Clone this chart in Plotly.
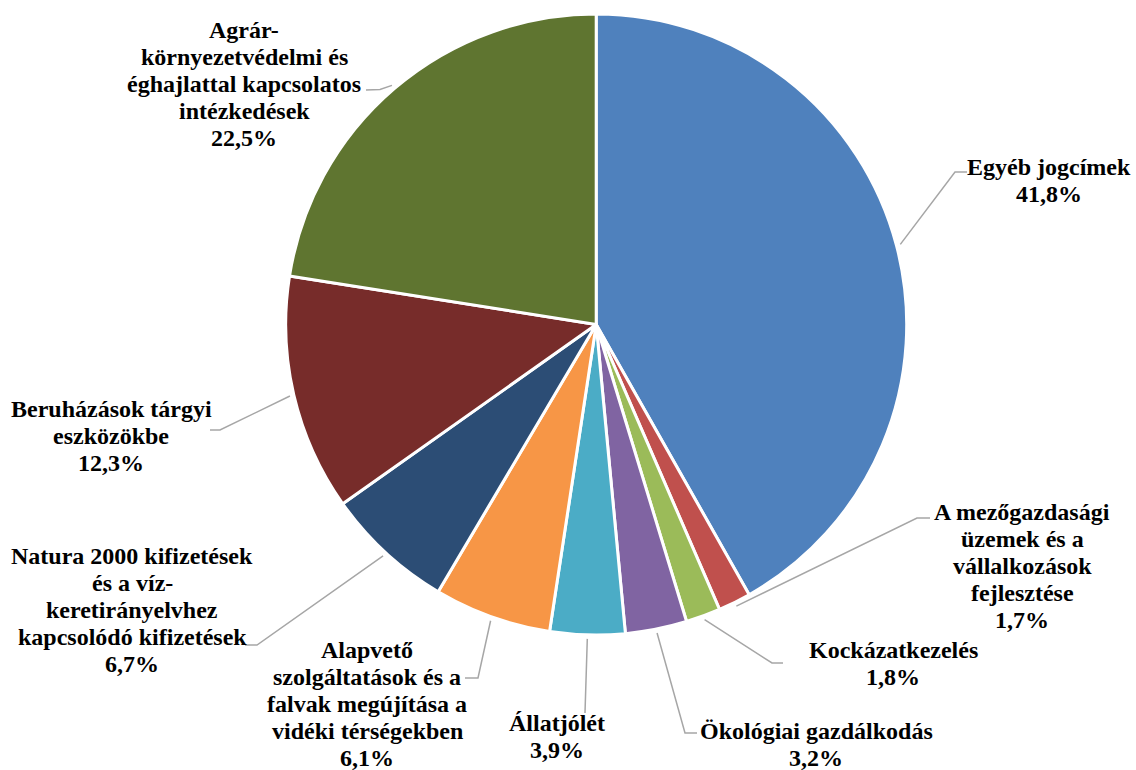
import math
import plotly.graph_objects as go

# ---- data ----
categories = [
    "Egyéb jogcímek",
    "A mezőgazdasági\nüzemek és a\nvállalkozások\nfejlesztése",
    "Kockázatkezelés",
    "Ökológiai gazdálkodás",
    "Állatjólét",
    "Alapvető\nszolgáltatások és a\nfalvak megújítása a\nvidéki térségekben",
    "Natura 2000 kifizetések\nés a víz-\nkeretirányelvhez\nkapcsolódó kifizetések",
    "Beruházások tárgyi\neszközökbe",
    "Agrár-\nkörnyezetvédelmi és\néghajlattal kapcsolatos\nintézkedések",
]
values = [41.8, 1.7, 1.8, 3.2, 3.9, 6.1, 6.7, 12.3, 22.5]
colors = ["#4F81BD", "#C0504D", "#9BBB59", "#8064A2", "#4BACC6",
          "#F79646", "#2C4D75", "#772C2A", "#5F7530"]

# ---- layout (pixel positions of label blocks and leader elbows) ----
W, H = 1136, 770
CX, CY, R = 596.2, 324.5, 310.5
label_centers = [(1049, 180), (1022, 566), (893, 663), (816, 744), (557, 736),
                 (367, 704), (132, 610), (111, 436), (244, 84)]
leader_bends = [
    [(955, 172), (967, 172)],
    [(917, 518), (930, 518)],
    [(772, 663), (783, 663)],
    [(685, 733), (697, 733)],
    [(585, 713)],
    [(478, 678), (465, 678)],
    [(257, 645), (245, 645)],
    [(220, 430), (210, 430)],
    [(380, 89.5), (366, 90)],
]
LINE_H = 27
FONT = dict(family="Liberation Serif, Times New Roman, serif", size=24,
            color="#000000", weight="bold")


def join_name(s):
    out = ""
    for part in s.split("\n"):
        if out and not out.endswith("-"):
            out += " "
        out += part
    return out


def px(x, y):
    return x / W, 1 - y / H


fig = go.Figure(go.Pie(
    labels=[join_name(c) for c in categories],
    values=values,
    sort=False,
    direction="clockwise",
    rotation=0,
    marker=dict(colors=colors, line=dict(color="#FFFFFF", width=3)),
    textinfo="none",
    textposition="none",
    domain=dict(x=[(CX - R) / W, (CX + R) / W], y=[1 - (CY + R) / H, 1 - (CY - R) / H]),
    showlegend=False,
))

total = sum(values)
cum = 0.0
annotations = []
shapes = []
for i, (name, v) in enumerate(zip(categories, values)):
    mid = (cum + v / 2) / total * 2 * math.pi
    cum += v
    sx = CX + (R + 4) * math.sin(mid)
    sy = CY - (R + 4) * math.cos(mid)
    pts = [(sx, sy)] + leader_bends[i]
    path = ""
    for j, (x, y) in enumerate(pts):
        fx, fy = px(x, y)
        path += ("M" if j == 0 else " L") + f" {fx:.5f},{fy:.5f}"
    shapes.append(dict(type="path", path=path, xref="paper", yref="paper",
                       line=dict(color="#A6A6A6", width=1.5)))
    lines = name.split("\n") + [f"{v:.1f}".replace(".", ",") + "%"]
    bx, by = label_centers[i]
    n = len(lines)
    for k, t in enumerate(lines):
        ly = by + (k - (n - 1) / 2) * LINE_H
        fx, fy = px(bx, ly)
        annotations.append(dict(text=t, x=fx, y=fy, xref="paper", yref="paper",
                                xanchor="center", yanchor="middle",
                                showarrow=False, font=FONT))

fig.update_layout(
    width=W, height=H,
    margin=dict(l=0, r=0, t=0, b=0),
    paper_bgcolor="#FFFFFF",
    plot_bgcolor="#FFFFFF",
    annotations=annotations,
    shapes=shapes,
)

fig.write_html("out.html", config={"displayModeBar": False},
               post_script="document.body.style.margin='0';")
